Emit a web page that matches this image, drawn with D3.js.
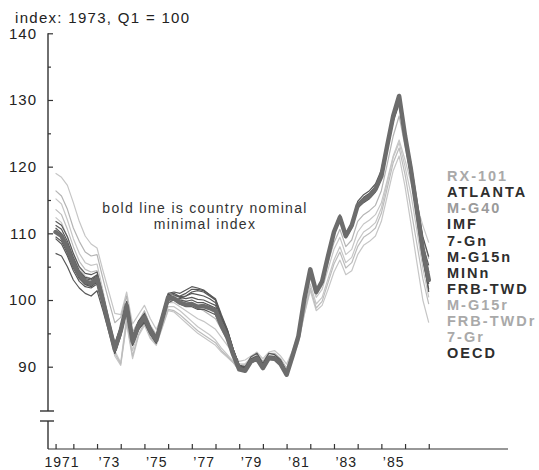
<!DOCTYPE html>
<html><head><meta charset="utf-8">
<script src="https://cdn.jsdelivr.net/npm/d3@7"></script>
<style>body{margin:0;background:#fff}svg{display:block}</style>
</head><body>
<svg id="c" width="539" height="470"></svg>
<script>
// ---------- DATA ----------
// quarterly observations, first point 1970 Q4, last point 1986 Q3
const firstQuarter = 1970.75;
const quarterCount = 64;
const yTickValues = [90, 100, 110, 120, 130, 140];
const yMinorTicks = [95, 105, 115, 125, 135];
const xLabelYears = [1971, 1973, 1975, 1977, 1979, 1981, 1983, 1985];
const xTickLabels = ["1971", "\u201973", "\u201975", "\u201977", "\u201979", "\u201981", "\u201983", "\u201985"];
const xTickYears = [1970.75, 1971.5, 1972.5, 1973.5, 1974.5, 1975.5, 1976.5, 1977.5, 1978.5, 1979.5, 1980.5, 1981.5, 1982.5, 1983.5, 1984.5, 1985.5, 1986.5];
const titleText = "index:  1973, Q1 = 100";
const noteLines = ["bold line is country nominal", "minimal index"];

const legendNames = ["RX-101", "ATLANTA", "M-G40", "IMF", "7-Gn", "M-G15n", "MINn", "FRB-TWD", "M-G15r", "FRB-TWDr", "7-Gr", "OECD"];

// country nominal minimal index (bold line)
const boldSeries = [110.2,
 109.6,107.8,105.5,103.8, 102.8,102.5,103.2,99.8, 96.2,92.6,95.4,99.2, 93.8,96.2,97.4,95.4,
 94.0,97.2,100.4,100.2, 99.6,99.3,99.4,99.0, 99.1,98.8,98.4,96.2, 94.4,91.8,89.6,89.4,
 90.8,91.2,89.8,91.3, 91.2,90.4,88.8,91.6, 94.6,100.2,104.6,101.2, 102.8,106.6,110.2,112.4,
 109.6,111.2,114.2,115.0, 115.6,116.6,118.6,123.2, 127.6,130.6,124.6,119.5, 113.5,107.5,103.0];

const rx101 = [119,
 118.4,117.2,114.6,111.8, 109.6,108.4,107.8,104.4, 101.2,98,97.8,101.2, 96.4,97.8,99.2,97.2,
 95.6,97.6,99.6,99.6, 99,98.4,97.8,97.2, 96.8,96.2,95.6,94.4, 93.2,92,90.8,91,
 91.6,92.2,91.2,92.2, 92.4,91.6,90.4,92.4, 95,99.4,103.4,100.4, 101.6,104.6,107.6,109.4,
 106.8,107.6,110.2,111.4, 112,112.8,114.6,118, 121.6,124,121,117.6, 114.2,111.2,108.6];

const atlanta = [111.8,
 111.2,109.5,107,105, 104,103.8,104.2,100.8, 97,93.5,96,99.8, 94.5,96.8,98,96,
 94.5,97.8,101,101.2, 101,101.5,102,101.8, 101.5,100.8,100,97.5, 95.5,92.6,90.2,90,
 91.5,92,90.5,92, 91.8,91,89.3,92, 95,100.5,104.8,101.5, 103,107,110.5,112.8,
 110,111.6,114.8,115.8, 116.4,117.4,119.5,123.8, 128,130.2,125,120.5, 115,109.5,106.5];

const mg40 = [116.4,
 115.6,113.6,110.8,108.8, 107.2,106.6,106.8,103.2, 99.8,96.6,97.4,100.6, 95.2,96.8,98.4,96.2,
 94.8,97.4,100,100.4, 100.2,99.8,99.4,98.8, 98.4,97.8,97.2,95.6, 94,92.2,90.4,90.4,
 91.4,92,90.8,92, 92,91.2,89.8,92, 94.8,99.8,104,100.8, 102.2,105.6,108.6,110.6,
 108,109,111.8,112.8, 113.4,114.2,116.4,120.4, 124.6,127.6,123,118.6, 113.8,109.4,106.2];

const imf = [110.8,
 110,108.4,106,104.2, 103.2,103,103.6,100.4, 96.8,93.2,96,99.6, 94.2,96.8,97.8,95.8,
 94.3,97.6,100.8,101, 100.5,100.6,101,100.8, 100.6,100.2,99.6,97.2, 95.2,92.4,90.2,89.8,
 91.2,91.6,90.2,91.6, 91.5,90.8,89.2,91.8, 94.8,100.2,104.4,101, 102.6,106.4,110,112.2,
 109.4,111,114,115, 115.8,116.8,118.8,123, 127.2,129.6,124.4,119.6, 113.8,108.2,105.2];

const sevenGn = [109.5,
 108.8,107,104.8,103.2, 102.3,102,102.7,99.5, 96,92.4,95.2,98.8, 93.6,96,97,95.2,
 93.8,97,100.2,100.6, 100.6,101,101.6,101.6, 101.4,100.8,100.2,97.8, 95.6,92.6,90.2,89.8,
 91,91.4,90,91.5, 91.4,90.6,89,91.8, 94.8,100.4,104.6,101.4, 103,106.8,110.4,112.6,
 109.8,111.4,114.4,115.4, 116,117,119,123.6, 128,130,124.8,119.8, 114,108,104.2];

const mg15n = [111.2,
 110.6,108.8,106.4,104.4, 103.4,103.2,103.8,100.2, 96.4,92.8,95.6,99.4, 94,96.4,97.6,95.6,
 94.2,97.4,100.6,100.8, 100.4,100.2,100.4,100.1, 100,99.6,99.2,96.8, 94.8,92.2,89.9,89.7,
 91,91.4,90,91.4, 91.3,90.6,89,91.7, 94.7,100.3,104.7,101.3, 102.9,106.7,110.3,112.5,
 109.7,111.3,114.3,115.2, 115.9,117,119.1,123.5, 127.8,130.2,124.6,119.4, 113.4,107.8,103.8];

const minn = [110.4,
 109.6,107.6,105.2,103.4, 102.4,102.2,102.8,99.6, 96,92.4,95.2,99, 93.6,96,97.2,95.2,
 93.8,97,100,100, 99.4,99,99,98.6, 98.6,98.2,97.8,95.8, 94,91.6,89.5,89.3,
 90.6,91,89.6,91.1, 91,90.2,88.7,91.4, 94.4,100,104.4,101, 102.6,106.4,110,112.2,
 109.4,111,114,114.8, 115.4,116.4,118.4,123, 127.4,130.4,124.4,119.2, 113,106.8,102.4];

const frbTwd = [109.2,
 108.4,106.6,104.4,102.8, 102,101.8,102.4,99.2, 95.6,92,94.8,98.6, 93.2,95.6,96.8,95,
 93.6,96.8,100,100.2, 100,99.8,100,99.6, 99.6,99.2,98.8,96.6, 94.6,92,89.8,89.6,
 90.9,91.3,89.9,91.4, 91.3,90.5,88.9,91.7, 94.6,100.1,104.4,101.1, 102.7,106.5,110.1,112.3,
 109.5,111.1,114.1,114.9, 115.5,116.5,118.5,123.1, 127.5,130.3,124,118.6, 112.4,106,101.6];

const mg15r = [115.2,
 114.4,112,109.2,107, 105.6,105.2,105.4,101.4, 97,92.4,90.6,97.6, 92.4,95.4,97,94.8,
 93.8,96.4,99,99, 98.4,97.6,96.8,96, 95.4,94.8,94,92.8, 91.8,90.8,89.6,90.4,
 91.2,91.8,90.6,91.6, 91.8,90.8,89.8,91.6, 94,98.4,102.4,99.4, 100.4,103.2,106,108,
 105.6,106.4,108.8,110.2, 110.8,111.6,113.8,117.6, 121.4,123.6,120,115.8, 110.4,104.8,100.4];

const frbTwdr = [112.4,
 111.6,109.4,106.8,104.8, 103.6,103.2,103.6,99.8, 95.4,91.6,90.2,96.4, 91.2,94.6,96.2,94.2,
 93.2,95.8,98.4,98.2, 97.4,96.6,95.8,95, 94.4,93.8,93.2,92.2, 91.4,90.6,89.4,90,
 90.8,91.4,90.2,91.2, 91.4,90.4,89.4,91.2, 93.6,97.8,101.4,98.4, 99.2,101.6,104.2,106,
 103.8,104.4,106.8,108.2, 108.8,109.6,111.8,115.6, 119.4,121.6,117,111.4, 105.6,100,96.6];

const sevenGr = [113.6,
 112.8,110.6,108,105.8, 104.6,104.2,104.4,100.6, 96.2,92,90.4,96.8, 91.6,94.8,96.6,94.4,
 93.4,96,98.6,98.4, 97.8,97,96.2,95.4, 94.8,94.2,93.6,92.4, 91.6,90.6,89.5,90.2,
 91,91.6,90.4,91.4, 91.6,90.6,89.6,91.4, 93.8,98,101.8,98.8, 99.8,102.6,105.4,107.2,
 104.8,105.6,108,109.4, 110,110.8,113,116.8, 120.6,122.8,118.8,113.6, 108.4,103.2,99.4];

const oecd = [107,
 106.6,105,103,101.8, 101,100.6,101.4,98.4, 95.2,92,94.6,98.4, 93.2,95.6,96.6,94.8,
 93.5,96.6,99.6,100, 100.2,100.6,101.2,101.4, 101.2,100.6,100,97.4, 95.4,92.6,90.2,89.9,
 91.1,91.5,90.1,91.5, 91.4,90.6,89.1,91.8, 94.9,100.3,104.3,101, 102.6,106.3,109.8,112,
 109.3,110.8,113.8,114.6, 115.2,116.2,118.2,122.6, 126.8,129.4,123.6,118.4, 112.6,106.8,101.2];

// ---------- STYLES (kept apart from data) ----------
const styleOf = {
  "RX-101":   {line: "#c6c6c6", text: "#a9a9a9", w: 1.2, dark: false},
  "ATLANTA":  {line: "#575757", text: "#2e2e2e", w: 1.2, dark: true},
  "M-G40":    {line: "#b4b4b4", text: "#9a9a9a", w: 1.2, dark: false},
  "IMF":      {line: "#575757", text: "#2e2e2e", w: 1.2, dark: true},
  "7-Gn":     {line: "#575757", text: "#2e2e2e", w: 1.2, dark: true},
  "M-G15n":   {line: "#575757", text: "#2e2e2e", w: 1.2, dark: true},
  "MINn":     {line: "#575757", text: "#2e2e2e", w: 1.2, dark: true},
  "FRB-TWD":  {line: "#575757", text: "#2e2e2e", w: 1.2, dark: true},
  "M-G15r":   {line: "#c6c6c6", text: "#a9a9a9", w: 1.2, dark: false},
  "FRB-TWDr": {line: "#c6c6c6", text: "#a9a9a9", w: 1.2, dark: false},
  "7-Gr":     {line: "#bcbcbc", text: "#a9a9a9", w: 1.2, dark: false},
  "OECD":     {line: "#575757", text: "#2e2e2e", w: 1.2, dark: true}
};

const seriesValues = [rx101, atlanta, mg40, imf, sevenGn, mg15n, minn, frbTwd, mg15r, frbTwdr, sevenGr, oecd];
const series = legendNames.map((n, i) => ({name: n, values: seriesValues[i]}));
const times = d3.range(quarterCount).map(i => firstQuarter + i * 0.25);

// ---------- CHART ----------
const svg = d3.select("#c");
const x = d3.scaleLinear().domain([1971, 1986]).range([61.5, 416.9]);
const y = d3.scaleLinear().domain([90, 140]).range([366.7, 33.3]);
const axisX = 48, baseY = 449, breakTop = 411, breakBot = 421;
const axisColor = "#333";
const fontFam = "'Liberation Sans', Arial, Helvetica, sans-serif";

// title
svg.append("text").attr("x", 15).attr("y", 23)
  .attr("font-family", fontFam).attr("font-size", 15).attr("letter-spacing", 1.3)
  .attr("fill", "#222").text(titleText);

// y axis line with break
svg.append("line").attr("x1", axisX).attr("x2", axisX).attr("y1", y(140)).attr("y2", breakTop)
  .attr("stroke", axisColor).attr("stroke-width", 1.4);
svg.append("line").attr("x1", axisX).attr("x2", axisX).attr("y1", breakBot).attr("y2", baseY)
  .attr("stroke", axisColor).attr("stroke-width", 1.4);
[breakTop, breakBot].forEach(by => {
  svg.append("line").attr("x1", axisX - 8).attr("x2", axisX + 6).attr("y1", by).attr("y2", by)
    .attr("stroke", axisColor).attr("stroke-width", 1.4);
});

// y axis ticks and labels
const yAxis = d3.axisLeft(y).tickValues(yTickValues).tickSizeInner(-5).tickSizeOuter(0).tickPadding(11);
const gy = svg.append("g").attr("transform", `translate(${axisX},0)`).call(yAxis);
gy.select(".domain").remove();
gy.selectAll(".tick line").attr("stroke", axisColor).attr("stroke-width", 1.2);
gy.selectAll(".tick text").attr("font-family", fontFam).attr("font-size", 15)
  .attr("letter-spacing", 1).attr("fill", "#222");
const gyMinor = svg.append("g").attr("transform", `translate(${axisX},0)`)
  .call(d3.axisLeft(y).tickValues(yMinorTicks).tickSizeInner(-3).tickSizeOuter(0).tickFormat(""));
gyMinor.select(".domain").remove();
gyMinor.selectAll(".tick line").attr("stroke", axisColor).attr("stroke-width", 1.2);

// x axis
svg.append("line").attr("x1", axisX).attr("x2", 508).attr("y1", baseY).attr("y2", baseY)
  .attr("stroke", axisColor).attr("stroke-width", 1.2);
const gx = svg.append("g").attr("transform", `translate(0,${baseY})`)
  .call(d3.axisBottom(x).tickValues(xTickYears).tickSizeInner(-5).tickSizeOuter(0).tickFormat(""));
gx.select(".domain").remove();
gx.selectAll(".tick line").attr("stroke", axisColor).attr("stroke-width", 1.2);
const gxl = svg.append("g").attr("transform", `translate(0,${baseY})`)
  .call(d3.axisBottom(x).tickValues(xLabelYears).tickSize(0).tickPadding(8)
    .tickFormat((d, i) => xTickLabels[i]));
gxl.select(".domain").remove();
gxl.selectAll(".tick text").attr("font-family", fontFam).attr("font-size", 14)
  .attr("letter-spacing", 1).attr("fill", "#222");

// note
svg.append("text").attr("text-anchor", "middle").attr("font-family", fontFam)
  .attr("font-size", 14).attr("letter-spacing", 1.3).attr("fill", "#333")
  .selectAll("tspan").data(noteLines).join("tspan")
  .attr("x", 205).attr("y", (d, i) => 213 + i * 16).text(d => d);

// lines
const line = d3.line().x((d, i) => x(times[i])).y(d => y(d));
const light = series.filter(s => !styleOf[s.name].dark);
const dark = series.filter(s => styleOf[s.name].dark);
svg.append("g").selectAll("path").data(light.concat(dark)).join("path")
  .attr("d", d => line(d.values)).attr("fill", "none")
  .attr("stroke", d => styleOf[d.name].line).attr("stroke-width", d => styleOf[d.name].w)
  .attr("stroke-linejoin", "round");
svg.append("path").attr("d", line(boldSeries)).attr("fill", "none")
  .attr("stroke", "#6c6c6c").attr("stroke-width", 4.5)
  .attr("stroke-linejoin", "round").attr("stroke-linecap", "round");

// legend labels
const ly = d3.scalePoint().domain(legendNames).range([176, 353]);
svg.append("g").selectAll("text").data(legendNames).join("text")
  .attr("x", 447).attr("y", d => ly(d)).attr("dy", "0.36em")
  .attr("font-family", fontFam).attr("font-size", 14.5).attr("font-weight", "bold")
  .attr("letter-spacing", 2)
  .attr("fill", d => styleOf[d].text).text(d => d);
</script>
</body></html>
